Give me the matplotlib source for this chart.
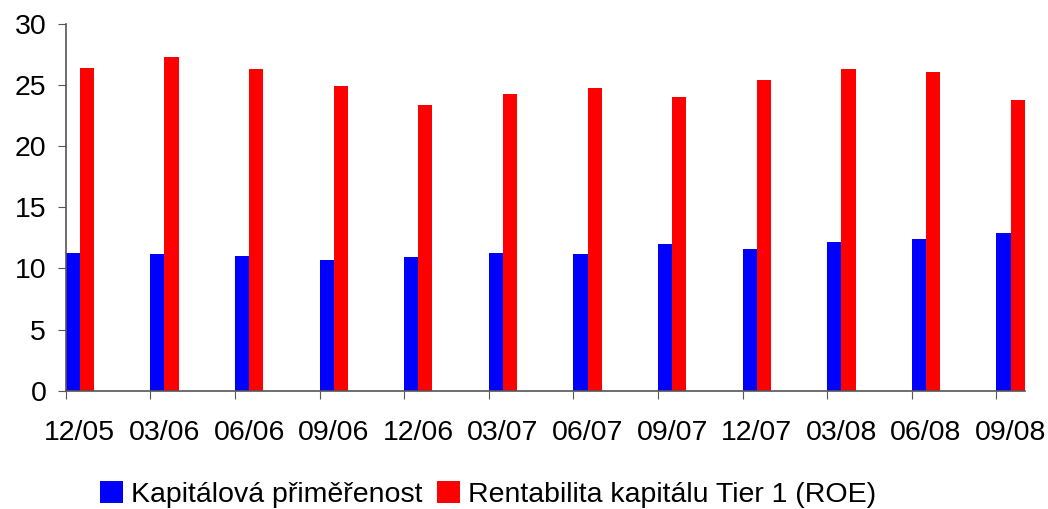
import matplotlib.pyplot as plt
import numpy as np

# data
quarters = ["12/05", "03/06", "06/06", "09/06", "12/06", "03/07",
            "06/07", "09/07", "12/07", "03/08", "06/08", "09/08"]
kapitalova = [11.3, 11.2, 11.0, 10.7, 10.9, 11.3, 11.2, 12.0, 11.6, 12.2, 12.4, 12.9]
roe = [26.4, 27.3, 26.3, 24.9, 23.4, 24.3, 24.8, 24.0, 25.4, 26.3, 26.1, 23.8]

plt.rcParams['font.family'] = ['Liberation Sans', 'DejaVu Sans']

fig = plt.figure(figsize=(10.48, 5.09), dpi=100)
ax = fig.add_axes([0.0627, 0.2324, 0.9151, 0.7204])

x = np.arange(len(quarters))
w = 0.167
ax.bar(x, kapitalova, width=w, align='edge', color='#0000ff', label='Kapitálová přiměřenost')
ax.bar(x + w, roe, width=w, align='edge', color='#ff0000', label='Rentabilita kapitálu Tier 1 (ROE)')

ax.set_xlim(0, len(quarters) - 1 + 2 * w)
ax.set_ylim(0, 30)
ax.set_yticks(range(0, 31, 5))

# ticks at group starts, labels centred under the bars
ax.set_xticks(x)
ax.set_xticklabels([])
ax.set_xticks(x + w, minor=True)
ax.set_xticklabels(quarters, minor=True)
ax.tick_params(axis='x', which='minor', length=0, pad=21, labelsize=20.5)
ax.tick_params(axis='x', which='major', length=6, color='#555555')
ax.tick_params(axis='y', length=6, color='#555555', labelsize=20.5, pad=8)

for s in ['top', 'right']:
    ax.spines[s].set_visible(False)
for s in ['left', 'bottom']:
    ax.spines[s].set_color('#555555')
    ax.spines[s].set_linewidth(1.2)

fig.legend(loc='center', bbox_to_anchor=(0.466, 0.028), ncol=2, frameon=False,
           fontsize=20.5, handlelength=0.8, handleheight=0.8, handletextpad=0.3,
           columnspacing=0.5, borderpad=0)

plt.savefig('out.png', dpi=100)
